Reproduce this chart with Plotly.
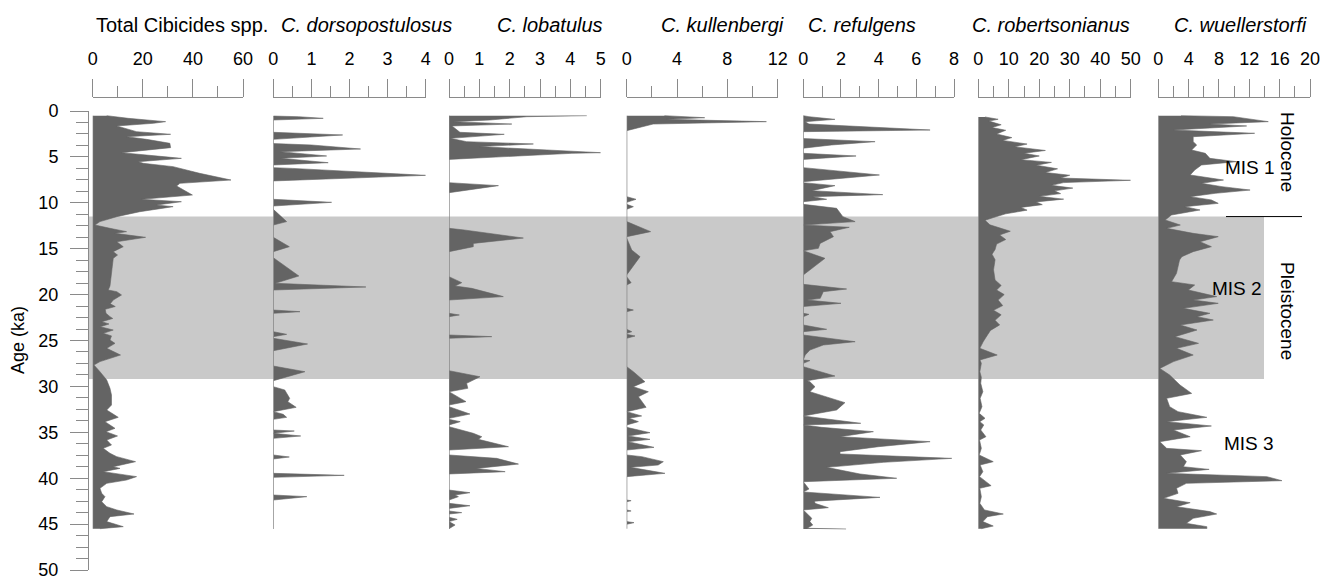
import plotly.graph_objects as go

# ---------------- DATA ----------------
panel_titles = ["Total Cibicides spp.", "<i>C. dorsopostulosus</i>", "<i>C. lobatulus</i>",
                "<i>C. kullenbergi</i>", "<i>C. refulgens</i>", "<i>C. robertsonianus</i>",
                "<i>C. wuellerstorfi</i>"]
x_max = [60, 4, 5, 12, 8, 50, 20]
x_major = [20, 1, 1, 4, 2, 10, 4]
x_minor = [10, 0.5, 0.5, 2, 1, 5, 2]

total_age = [0.51, 0.80, 1.16, 1.34, 1.63, 2.25, 2.54, 2.80, 3.09, 3.52, 3.99, 4.54, 4.97, 5.16, 5.52, 5.70,
             6.06, 6.79, 7.52, 7.88, 8.17, 9.15, 9.62, 9.88, 10.24, 10.42, 10.97, 11.51, 12.05, 12.42, 12.78,
             13.14, 13.33, 13.76, 14.24, 14.78, 15.32, 15.69, 16.05, 17.68, 19.06, 19.50, 19.68, 20.04, 20.41,
             20.59, 21.0, 21.3, 21.6, 22.04, 22.40, 22.6, 22.95, 23.2, 23.5, 23.86, 24.22, 24.5, 24.95, 25.31,
             25.85, 26.58, 27.30, 27.67, 28.40, 29.31, 30.21, 30.94, 32.03, 32.57, 33.37, 33.84, 34.57, 34.93,
             35.40, 35.84, 36.38, 36.75, 37.29, 37.65, 38.20, 38.75, 38.93, 39.29, 39.83, 40.20, 40.56, 41.10,
             41.65, 42.01, 42.56, 43.10, 43.46, 43.90, 44.19, 44.73, 45.28, 45.50]
total_val = [5.6, 14.2, 29.1, 24.2, 9.6, 17.5, 31.1, 13.5, 21.5, 30.8, 31.1, 11.5, 28.1, 35.4, 18.2, 20.2,
             32.1, 42.7, 55.2, 34.8, 33.5, 39.8, 19.5, 35.4, 25.5, 32.1, 18.8, 9.6, 2.9, 0.9, 6.9,
             13.5, 8.9, 21.1, 9.6, 12.2, 8.2, 9.9, 8.2, 7.5, 6.9, 6.2, 9.6, 11.5, 9.6,
             8.2, 7.0, 9.0, 5.0, 5.3, 6.9, 8.0, 3.6, 6.5, 3.0, 8.2, 4.2, 7.5, 6.9, 8.9,
             5.6, 11.1, 2.9, 0.5, 2.9, 5.6, 6.9, 7.5, 7.5, 5.6, 10.2, 4.9, 8.9, 5.3,
             9.9, 5.6, 7.5, 4.2, 6.9, 9.6, 17.1, 8.2, 10.9, 4.2, 17.5, 13.5, 5.6, 2.9,
             3.6, 4.9, 3.6, 5.6, 9.6, 16.5, 6.9, 5.6, 12.2, 2.9]

dorso_age = [0.55, 0.62, 0.80, 0.98, 2.32, 2.61, 3.09, 3.55, 3.70, 4.14, 4.43, 4.90, 5.16, 5.63, 5.88, 6.17,
             6.25, 7.01, 7.62, 9.62, 9.95, 10.35, 10.71, 12.05, 12.42, 13.76, 14.78, 15.32, 15.98, 17.97,
             18.77, 19.17, 19.50, 21.68, 21.86, 22.04, 24.04, 24.33, 24.58, 24.76, 25.38, 26.11, 27.78, 28.40,
             29.38, 30.03, 30.39, 31.30, 31.66, 32.28, 32.75, 33.04, 33.37, 33.59, 34.75, 34.86, 35.11, 35.40,
             35.66, 37.47, 37.69, 37.91, 39.47, 39.69, 39.91, 41.83, 42.01, 42.38, 45.53]
dorso_val = [0, 0.66, 1.31, 0, 0, 1.82, 0, 0, 1.0, 2.29, 0.18, 1.40, 0.2, 1.44, 0, 0,
             0.5, 4.0, 0, 0, 1.53, 0, 0, 0.35, 0, 0, 0.42, 0, 0, 0.67,
             0.05, 2.43, 0, 0, 0.70, 0, 0, 0.35, 0, 0, 0.90, 0, 0, 0.83,
             0, 0, 0.3, 0.43, 0.38, 0.6, 0, 0.26, 0.35, 0, 0, 0.55, 0, 0.72,
             0, 0, 0.42, 0, 0, 1.86, 0, 0, 0.88, 0, 0]

lobat_age = [0.51, 0.55, 0.62, 0.98, 1.16, 1.42, 1.63, 2.32, 2.54, 2.98, 3.34, 3.59, 3.88, 4.54, 4.61, 5.27,
             7.81, 8.13, 8.90, 12.78, 12.96, 13.84, 14.42, 14.78, 15.32, 18.05, 18.70, 19.06, 19.32, 20.22,
             20.59, 22.04, 22.22, 22.40, 24.40, 24.58, 24.76, 28.29, 28.95, 29.67, 30.21, 30.58, 31.66, 32.03,
             32.21, 33.01, 33.48, 33.59, 33.84, 34.20, 34.39, 35.11, 35.48, 35.77, 36.57, 36.93, 37.47, 37.84,
             38.46, 38.93, 39.29, 39.54, 41.29, 41.58, 41.83, 42.01, 42.38, 42.74, 43.00, 43.29, 43.57, 43.75,
             43.90, 44.26, 44.48, 44.73, 45.10, 45.50]
lobat_val = [4.54, 3.8, 2.56, 1.35, 0.15, 2.07, 0.1, 0.36, 1.82, 0.05, 0.58, 2.78, 1.02, 5.0, 4.05, 0,
             0, 1.63, 0, 0, 0.5, 2.45, 0.8, 0.8, 0, 0, 0.42, 0.2, 0.75, 1.79,
             0, 0, 0.34, 0, 0, 1.41, 0, 0, 1.02, 0.58, 0.62, 0, 0.56, 0,
             0, 0.69, 0, 0, 0.37, 0, 0, 0.8, 1.08, 0.97, 1.96, 0, 0, 1.57,
             2.29, 0.9, 1.85, 0, 0, 0.69, 0.2, 0.31, 0, 0, 0.69, 0, 0, 0.42,
             0, 0, 0.27, 0, 0.2, 0]

kulle_age = [0.51, 0.73, 0.91, 1.16, 1.42, 2.14, 9.33, 9.62, 9.95, 10.17, 10.42, 10.71, 12.05, 13.14, 13.69,
             13.84, 15.14, 15.87, 17.86, 18.05, 18.70, 18.95, 21.50, 21.68, 21.86, 23.78, 24.04, 24.22, 24.33,
             24.51, 24.76, 27.85, 28.40, 29.49, 30.03, 30.58, 31.12, 32.28, 32.75, 33.22, 33.48, 33.84, 34.20,
             34.46, 35.04, 35.40, 35.77, 36.02, 36.64, 36.93, 37.47, 37.65, 38.20, 38.56, 38.82, 39.47, 39.83,
             42.38, 42.45, 42.56, 43.46, 43.57, 43.64, 44.73, 44.84, 45.02, 45.50]
kulle_val = [3.0, 6.2, 3.2, 11.1, 2.1, 0, 0, 0.74, 0, 0, 0.53, 0, 0, 1.9, 0,
             0, 0.4, 1.06, 0, 0, 0.35, 0, 0, 0.53, 0, 0, 0.4, 0, 0,
             0.66, 0, 0, 0.53, 1.45, 0.53, 1.72, 0.93, 1.54, 0, 1.19, 0.2, 0.93, 0,
             0, 1.85, 0.1, 1.85, 0.1, 2.17, 0, 0, 1.2, 2.91, 2.5, 0.3, 3.04, 0,
             0, 0.35, 0, 0, 0.35, 0, 0, 0.58, 0, 0]

reful_age = [0.51, 0.62, 0.91, 1.16, 1.42, 2.07, 2.25, 3.00, 3.34, 3.70, 4.05, 4.61, 4.90, 5.27, 6.17, 6.97,
             7.70, 7.81, 8.13, 8.68, 9.11, 9.33, 9.62, 9.88, 10.17, 10.60, 11.51, 12.05, 12.42, 12.67, 13.14,
             13.69, 14.42, 14.96, 15.22, 16.05, 17.86, 18.88, 19.39, 19.68, 20.41, 20.59, 20.95, 21.30, 22.04,
             22.15, 22.40, 23.31, 23.78, 24.04, 24.40, 25.13, 25.49, 26.04, 26.58, 27.12, 27.19, 27.49, 27.85,
             28.87, 29.38, 29.49, 30.03, 30.58, 31.77, 32.57, 33.22, 34.02, 34.20, 34.46, 34.93, 35.48, 36.02,
             36.57, 37.11, 37.36, 37.84, 38.27, 38.82, 39.54, 40.01, 40.38, 41.18, 41.50, 42.09, 42.50, 42.74,
             43.21, 43.46, 44.37, 44.73, 45.10, 45.46, 45.53]
reful_val = [0, 0.3, 1.68, 0.1, 0.3, 6.73, 0, 0, 3.81, 1.5, 0, 0, 2.8, 0, 0, 4.04,
             0, 0, 1.68, 0.45, 4.22, 0.5, 1.24, 0, 0, 1.77, 2.1, 2.75, 0, 2.44, 1.42,
             1.6, 0.89, 0.8, 0, 1.15, 0, 0, 2.3, 1.06, 0.9, 0.2, 2.0, 0, 0,
             0.3, 0, 0, 1.24, 0, 0, 2.75, 1.06, 0.35, 0.1, 0, 0.35, 0, 0,
             1.68, 0.2, 0.35, 0.62, 0.35, 2.21, 1.77, 0, 3.05, 0, 0.97, 3.72, 1.95, 6.73,
             3.98, 1.95, 1.95, 7.88, 4.25, 1.24, 3.01, 4.96, 0, 0.3, 0, 4.07, 0.6, 0.62,
             1.33, 0, 0.45, 0.35, 0.5, 0.2, 2.27]

rober_age = [0.65, 0.9, 1.1, 1.5, 1.8, 2.1, 2.5, 2.9, 3.2, 3.6, 3.9, 4.3, 4.6, 4.9, 5.3, 5.6, 5.9, 6.3,
             6.7, 7.0, 7.3, 7.55, 7.8, 8.1, 8.4, 8.7, 9.0, 9.3, 9.6, 9.9, 10.2, 10.5, 10.8, 11.2, 11.6,
             11.9, 12.4, 12.8, 13.1, 13.5, 14.0, 14.5, 15.1, 15.6, 16.2, 17.3, 18.4, 19.0, 19.5, 20.0,
             20.6, 21.2, 21.7, 22.2, 22.8, 23.3, 23.9, 24.4, 24.9, 25.13, 25.85, 26.58, 27.12, 27.49,
             28.40, 29.0, 29.67, 30.58, 31.30, 32.21, 32.93, 33.48, 33.84, 34.20, 34.75, 35.48, 35.84,
             36.75, 37.47, 38.20, 38.56, 39.29, 39.83, 40.81, 41.10, 42.01, 42.74, 43.46, 43.90, 44.19,
             44.73, 45.21, 45.50]
rober_val = [2.2, 6.5, 3.5, 7.5, 4.5, 9.0, 6.0, 11.0, 8.0, 16.0, 12.0, 22.0, 15.0, 20.0, 14.0, 24.0, 19.0, 26.0,
             22.0, 30.0, 27.0, 50.0, 28.0, 24.0, 31.0, 25.0, 27.0, 20.0, 28.0, 19.0, 21.0, 14.0, 16.0, 9.0, 5.0,
             2.2, 3.8, 8.0, 10.5, 7.0, 9.0, 6.0, 5.5, 4.5, 5.5, 5.0, 5.5, 7.5, 6.0, 8.5,
             6.5, 8.0, 5.0, 7.5, 5.5, 7.0, 4.0, 3.0, 2.0, 1.6, 0.5, 6.2, 0.55, 1.0,
             0.5, 1.0, 0.8, 1.5, 0.6, 1.2, 0.3, 2.2, 0.5, 1.8, 0.8, 2.5, 0.4,
             1.0, 0.3, 4.9, 0.6, 1.5, 0.4, 4.2, 0.5, 1.0, 0.5, 2.0, 8.2, 3.0,
             1.5, 4.9, 1.0]

wuell_age = [0.51, 0.62, 1.16, 1.42, 1.63, 2.07, 2.43, 2.80, 3.34, 3.70, 4.25, 4.61, 5.16, 5.52, 5.88, 6.43,
             6.97, 7.52, 7.88, 8.24, 8.61, 8.97, 9.33, 9.69, 10.06, 10.42, 10.78, 11.33, 11.87, 12.42, 12.78,
             13.33, 13.69, 14.24, 14.78, 15.32, 15.87, 16.23, 17.68, 18.59, 18.95, 19.50, 20.22, 20.59, 20.95,
             21.50, 22.04, 22.40, 22.77, 23.31, 23.86, 24.58, 25.31, 25.85, 26.58, 27.30, 28.04, 28.76, 29.85,
             30.76, 31.30, 32.21, 32.75, 33.37, 33.84, 34.31, 34.75, 35.48, 36.02, 36.75, 37.00, 37.47, 38.20,
             38.75, 39.04, 39.47, 39.83, 40.27, 40.56, 41.10, 41.65, 42.19, 42.67, 43.10, 43.64, 43.90, 44.37,
             44.92, 45.28, 45.50]
wuell_val = [3.0, 9.9, 14.5, 6.8, 11.65, 2.0, 12.7, 4.6, 4.6, 5.06, 4.4, 6.2, 6.8, 10.3, 5.7, 4.8,
             4.2, 8.6, 5.7, 8.4, 12.1, 7.5, 4.2, 7.0, 7.9, 3.5, 5.5, 1.75, 0.9, 2.9, 1.1,
             4.6, 7.9, 5.5, 7.0, 4.6, 3.1, 2.8, 2.4, 1.75, 4.8, 3.96, 7.7, 4.6, 7.9,
             3.3, 6.8, 5.1, 7.25, 2.9, 5.1, 2.2, 5.3, 2.4, 4.6, 2.0, 0.2, 1.5, 2.86,
             4.4, 1.1, 1.5, 2.6, 6.4, 1.1, 7.0, 2.0, 4.2, 0.2, 1.1, 5.7, 2.9, 3.7,
             3.3, 6.7, 1.1, 14.3, 16.3, 3.7, 2.4, 2.6, 0.7, 4.2, 2.4, 6.8, 7.7, 4.6,
             3.7, 6.4, 6.4]

series_ages = [total_age, dorso_age, lobat_age, kulle_age, reful_age, rober_age, wuell_age]
series_vals = [total_val, dorso_val, lobat_val, kulle_val, reful_val, rober_val, wuell_val]

y_ticks = [0, 5, 10, 15, 20, 25, 30, 35, 40, 45, 50]
band_ages = [11.5, 29.2]     # MIS 2 band
holocene_boundary = 11.5

# ---------------- LAYOUT ----------------
# The page body has an 8px default margin: the figure is placed so that
# page coordinates (OFF + figure px) match the target picture.
OFF = 8
W, H = 1332 - 2 * OFF, 579 - OFF
PLOT_L, PLOT_T, PLOT_B = 88, 97, 570          # page coordinates of plot area
ML, MT = PLOT_L - OFF, PLOT_T - OFF
MB = H - (PLOT_B - OFF)
MR = 0
PW = W - ML - MR
PH = H - MT - MB

def fx(p):   # page x pixel -> paper fraction
    return (p - PLOT_L) / PW

def fy(p):   # page y pixel -> paper fraction
    return (PLOT_B - p) / PH

panel_px = [(92.7, 243.0), (273.3, 425.7), (449.0, 600.7), (626.7, 777.7),
            (803.3, 954.0), (978.3, 1130.7), (1158.3, 1310.0)]
title_px = [182, 366, 550, 722, 862, 1051, 1240]

FONT = "Liberation Sans, Arial, sans-serif"
FILL = "#646464"
AXC = "#8a8a8a"

fig = go.Figure()
layout = dict(
    template="none",
    width=W, height=H, autosize=False,
    margin=dict(l=ML, r=MR, t=MT, b=MB, pad=0, autoexpand=False),
    paper_bgcolor="white", plot_bgcolor="rgba(0,0,0,0)",
    showlegend=False,
    font=dict(family=FONT, size=18, color="black"),
    yaxis=dict(domain=[0, fy(111)], range=[50, 0], anchor="free", position=0, automargin=False,
               tickmode="array", tickvals=y_ticks, ticks="outside", ticklen=18,
               tickcolor=AXC, tickwidth=1, showline=True, linecolor=AXC, linewidth=1,
               showgrid=False, zeroline=False, ticklabelstandoff=8, ticklabeloverflow="allow",
               minor=dict(dtick=1.25, tick0=0, ticks="outside", ticklen=12, tickcolor=AXC, showgrid=False),
               tickfont=dict(size=18, color="black")),
)

annotations = []
for i in range(7):
    ax = "xaxis" if i == 0 else f"xaxis{i+1}"
    xref = "x" if i == 0 else f"x{i+1}"
    layout[ax] = dict(domain=[fx(panel_px[i][0]), fx(panel_px[i][1])], range=[0, x_max[i]],
                      side="top", anchor="free", position=1, automargin=False,
                      tickmode="linear", tick0=0, dtick=x_major[i], ticks="outside", ticklen=18,
                      tickcolor=AXC, tickwidth=1, showline=True, linecolor=AXC, linewidth=1,
                      showgrid=False, zeroline=False, ticklabelstandoff=7, ticklabeloverflow="allow",
                      minor=dict(dtick=x_minor[i], tick0=0, ticks="outside", ticklen=11,
                                 tickcolor=AXC, showgrid=False),
                      tickfont=dict(size=18, color="black"))
    ages = series_ages[i]
    vals = series_vals[i]
    fig.add_trace(go.Scatter(x=vals, y=ages, xaxis=xref, yaxis="y", mode="lines",
                             fill="tozerox", fillcolor=FILL,
                             line=dict(color=FILL, width=0.6), hoverinfo="skip"))
    fig.add_trace(go.Scatter(x=[0, 0], y=[ages[0], ages[-1]], xaxis=xref, yaxis="y", mode="lines",
                             line=dict(color=AXC, width=1), hoverinfo="skip"))
    annotations.append(dict(text=panel_titles[i], x=fx(title_px[i]), y=fy(25), xref="paper", yref="paper",
                            showarrow=False, xanchor="center", yanchor="middle",
                            font=dict(size=20, family=FONT, color="black")))

annotations += [
    dict(text="Age (ka)", x=fx(18), y=fy(340), xref="paper", yref="paper", showarrow=False,
         textangle=-90, xanchor="center", yanchor="middle", font=dict(size=18, family=FONT, color="black")),
    dict(text="Holocene", x=fx(1288), y=fy(152), xref="paper", yref="paper", showarrow=False,
         textangle=90, xanchor="center", yanchor="middle", font=dict(size=19, family=FONT, color="black")),
    dict(text="Pleistocene", x=fx(1288), y=fy(311), xref="paper", yref="paper", showarrow=False,
         textangle=90, xanchor="center", yanchor="middle", font=dict(size=19, family=FONT, color="black")),
    dict(text="MIS 1", x=fx(1250), y=fy(167), xref="paper", yref="paper", showarrow=False,
         xanchor="center", yanchor="middle", font=dict(size=19, family=FONT, color="black")),
    dict(text="MIS 2", x=fx(1237), y=fy(288), xref="paper", yref="paper", showarrow=False,
         xanchor="center", yanchor="middle", font=dict(size=19, family=FONT, color="black")),
    dict(text="MIS 3", x=fx(1249), y=fy(443), xref="paper", yref="paper", showarrow=False,
         xanchor="center", yanchor="middle", font=dict(size=19, family=FONT, color="black")),
]
layout["annotations"] = annotations
layout["shapes"] = [
    dict(type="rect", xref="paper", yref="y", x0=0, x1=fx(1264), y0=band_ages[0], y1=band_ages[1],
         fillcolor="#c9c9c9", line=dict(width=0), layer="below"),
    dict(type="line", xref="paper", yref="y", x0=fx(1226), x1=fx(1302),
         y0=holocene_boundary, y1=holocene_boundary, line=dict(color="black", width=1)),
]
fig.update_layout(**layout)
fig.write_html("out.html")
